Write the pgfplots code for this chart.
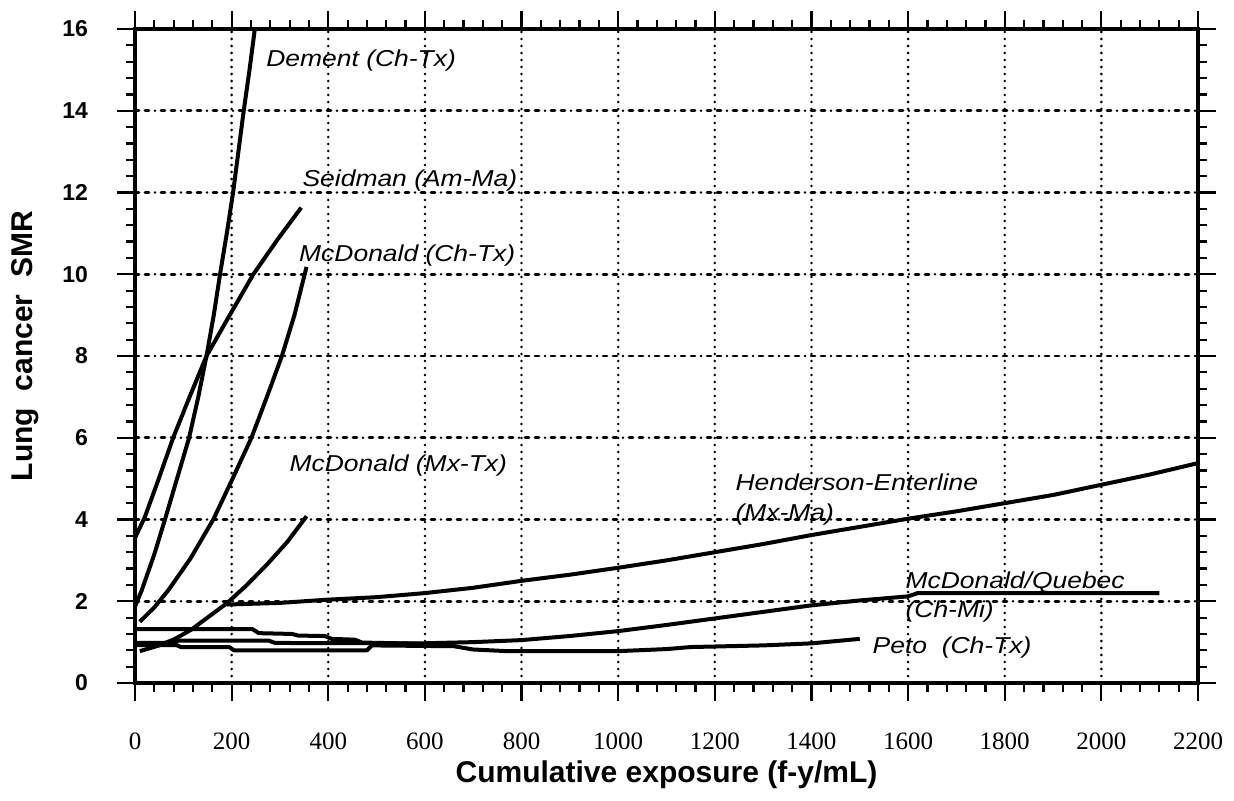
\documentclass[border=0pt]{standalone}
\usepackage{fontspec}
\setmainfont{Liberation Sans}
\newfontfamily\timesf{Liberation Serif}
\usepackage{graphicx}
\usepackage{pgfplots}
\pgfplotsset{compat=1.18}
\newcommand{\lab}[1]{\scalebox{1.15}[1]{\itshape\fontsize{11.5}{13}\selectfont #1}}
\begin{document}
\begin{tikzpicture}
\begin{axis}[
  at={(0,0)}, anchor=south west,
  scale only axis, width=531.5pt, height=327pt,
  xmin=0, xmax=2200, ymin=0, ymax=16,
  xtick={0,200,...,2200}, ytick={0,2,...,16},
  minor x tick num=4, minor y tick num=4,
  tick align=outside,
  major tick length=9pt, minor tick length=4.5pt,
  every tick/.style={black, line width=1.1pt},
  grid=major,
  major x grid style={black, line width=1.4pt, line cap=round, dash pattern=on 0pt off 3.5pt},
  major y grid style={black, line width=1.4pt, line cap=round, dash pattern=on 2pt off 3pt on 2pt off 3pt on 0pt off 3pt},
  axis line style={line width=1.7pt},
  /pgf/number format/assume math mode=true,
  /pgf/number format/1000 sep={},
  xticklabel style={font=\timesf\fontsize{12.5}{14}\selectfont, yshift=-12.5pt},
  yticklabel style={font=\bfseries\fontsize{11.5}{13}\selectfont, xshift=-11pt},
  xlabel={Cumulative exposure (f-y/mL)},
  ylabel={Lung\ \ cancer\ \ SMR},
  label style={font=\bfseries\fontsize{15}{18}\selectfont},
  xlabel style={at={(axis description cs:0.5,-0.14)}, anchor=center},
  ylabel style={at={(axis description cs:-0.1035,0.515)}, anchor=center},
  every axis plot post/.append style={black, solid, mark=none, line width=2pt, line join=round},
  clip=true,
]
% Dement (Ch-Tx)
\addplot coordinates {(0,1.87) (14,2.27) (40,3.15) (62,4.0) (87,5.0) (112,6.0) (131,7.0) (148,8.0) (163,9.0) (176,10.0) (190,11.0) (203,12.0) (214,13.0) (225,14.0) (237,15.0) (248,16.0)};
% Seidman (Am-Ma)
\addplot coordinates {(0,3.55) (20,4.05) (48,4.96) (79,6.0) (113,7.0) (148,8.0) (196,9.0) (245,10.0) (295,10.85) (344,11.63)};
% McDonald (Ch-Tx)
\addplot coordinates {(10,1.5) (40,1.85) (69,2.27) (115,3.05) (162,4.0) (202,5.0) (241,6.0) (273,7.0) (304,8.0) (330,9.0) (355,10.18)};
% McDonald (Mx-Tx)
\addplot coordinates {(10,0.78) (50,0.92) (83,1.08) (117,1.31) (150,1.6) (190,1.95) (230,2.38) (274,2.91) (315,3.45) (355,4.08)};
% Henderson-Enterline (Mx-Ma)
\addplot coordinates {(190,1.92) (300,1.96) (400,2.04) (500,2.1) (600,2.2) (700,2.33) (800,2.5) (900,2.65) (1000,2.82) (1100,3.0) (1200,3.2) (1300,3.4) (1400,3.62) (1500,3.82) (1600,4.02) (1700,4.2) (1800,4.4) (1900,4.6) (2000,4.85) (2100,5.1) (2200,5.38)};
% McDonald/Quebec (Ch-Mi)
\addplot coordinates {(0,0.98) (83,0.98) (90,1.04) (276,1.04) (290,0.98) (590,0.97) (700,1.0) (800,1.05) (900,1.15) (1000,1.27) (1100,1.42) (1200,1.58) (1300,1.74) (1400,1.9) (1500,2.02) (1600,2.12) (1620,2.2) (2120,2.2)};
% unlabelled series near SMR 1.3
\addplot coordinates {(0,1.32) (243,1.32) (256,1.22) (325,1.2) (338,1.16) (393,1.15) (407,1.08) (455,1.06) (470,0.99) (594,0.96)};
% Peto (Ch-Tx)
\addplot coordinates {(0,0.93) (85,0.93) (95,0.88) (195,0.88) (205,0.8) (480,0.8) (490,0.92) (660,0.9) (700,0.82) (770,0.78) (1000,0.78) (1100,0.83) (1150,0.88) (1300,0.92) (1400,0.97) (1500,1.08)};
\node[anchor=west, inner sep=0pt] at (axis cs:271,15.23) {\lab{Dement (Ch-Tx)}};
\node[anchor=west, inner sep=0pt] at (axis cs:346,12.3) {\lab{Seidman (Am-Ma)}};
\node[anchor=west, inner sep=0pt] at (axis cs:339,10.46) {\lab{McDonald (Ch-Tx)}};
\node[anchor=west, inner sep=0pt] at (axis cs:319,5.33) {\lab{McDonald (Mx-Tx)}};
\node[anchor=west, inner sep=0pt] at (axis cs:1242,4.91) {\lab{Henderson-Enterline}};
\node[anchor=west, inner sep=0pt] at (axis cs:1242,4.13) {\lab{(Mx-Ma)}};
\node[anchor=west, inner sep=0pt] at (axis cs:1594,2.47) {\lab{McDonald/Quebec}};
\node[anchor=west, inner sep=0pt] at (axis cs:1594,1.74) {\lab{(Ch-Mi)}};
\node[anchor=west, inner sep=0pt] at (axis cs:1526,0.86) {\lab{Peto\ \ (Ch-Tx)}};
\end{axis}
\pgfresetboundingbox
\path (-67.5pt,-58.5pt) rectangle (549.5pt,341.5pt);
\end{tikzpicture}
\end{document}
